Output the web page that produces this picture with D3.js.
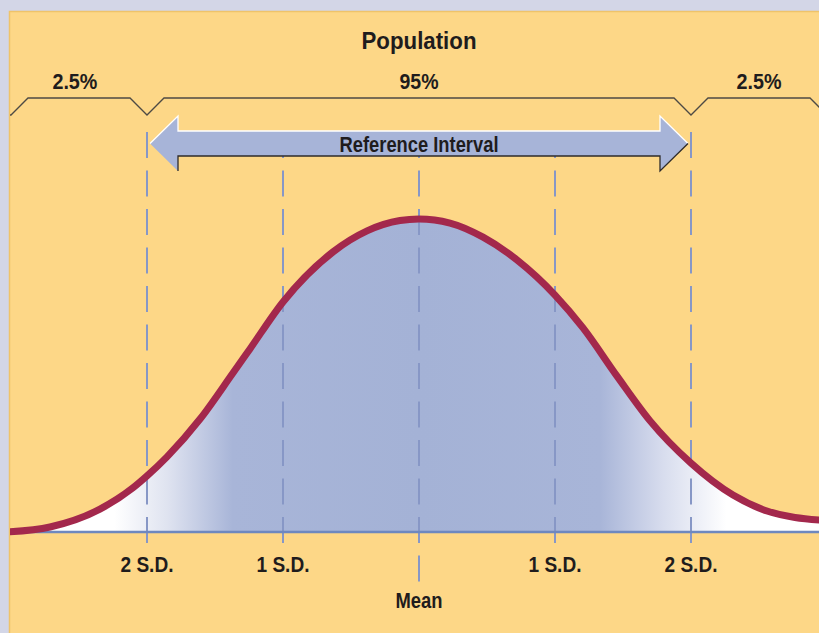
<!DOCTYPE html>
<html>
<head>
<meta charset="utf-8">
<script src="https://cdn.jsdelivr.net/npm/d3@7"></script>
<style>
  body { margin: 0; background: #d3d6e7; }
  svg { display: block; }
  .lbl { font-family: "Liberation Sans", Arial, sans-serif; font-weight: bold; fill: #1f1c1d; }
</style>
</head>
<body>
<div id="chart"></div>
<script>
// curve: position in S.D. units, height relative to the peak
var curveSD      = [-3.03, -2.713, -2.346, -2.103, -2.0, -1.853, -1.61, -1.368, -1.243, -1.0, -0.632, -0.382, -0.14, 0,
                    0.228, 0.471, 0.721, 1.0, 1.206, 1.456, 1.699, 2.0, 2.309, 2.559, 2.97];
var curveDensity = [0.0, 0.016, 0.073, 0.141, 0.179, 0.240, 0.361, 0.508, 0.585, 0.735, 0.895, 0.962, 0.995, 1.0,
                    0.987, 0.942, 0.869, 0.757, 0.652, 0.498, 0.355, 0.220, 0.118, 0.067, 0.037];

// dashed guides and their labels
var sdLines  = [-2, -1, 0, 1, 2];
var sdLabels = ["2 S.D.", "1 S.D.", "Mean", "1 S.D.", "2 S.D."];

// bracket notches and the share of the population in each part
var bracketSD   = [-3, -2, 2, 3];
var shareLabels = ["2.5%", "95%", "2.5%"];
var sharePos    = [-2.53, 0, 2.5];

var title = "Population";
var intervalLabel = "Reference Interval";
var intervalSD = [-2, 2];

// svg container
var svgWidth = 819;
var svgHeight = 633;

var svg = d3.select("#chart").append("svg")
    .attr("width", svgWidth)
    .attr("height", svgHeight);

// panel
var panel = {left: 9, top: 11};
svg.append("rect")
    .attr("x", panel.left).attr("y", panel.top)
    .attr("width", svgWidth - panel.left).attr("height", svgHeight - panel.top)
    .attr("fill", "#fdd787");
svg.append("path")
    .attr("d", `M${panel.left + 0.5},${svgHeight} V${panel.top + 0.5} H${svgWidth}`)
    .attr("fill", "none").attr("stroke", "#efc36a").attr("stroke-width", 1.5);

svg.append("clipPath").attr("id", "clip")
  .append("rect")
    .attr("x", panel.left + 1).attr("y", panel.top + 1)
    .attr("width", svgWidth).attr("height", svgHeight);

var g = svg.append("g").attr("clip-path", "url(#clip)");

// scales
var xScale = d3.scaleLinear().domain([-3, 3]).range([11, 827]);
var yScale = d3.scaleLinear().domain([0, 1]).range([532, 219]);

var curveData = curveSD.map((s, i) => ({sd: s, d: curveDensity[i]}));

// fill gradient: white in the tails, blue in the middle
var grad = svg.append("defs").append("linearGradient")
    .attr("id", "fillGrad")
    .attr("gradientUnits", "userSpaceOnUse")
    .attr("x1", 0).attr("x2", svgWidth).attr("y1", 0).attr("y2", 0);
[[-2.24, "#ffffff"], [-1.85, "#dfe3f0"], [-1.37, "#a8b5d8"], [0, "#a4b2d6"],
 [1.33, "#a8b5d8"], [1.8, "#d8ddee"], [2.26, "#ffffff"]].forEach(function(s) {
    grad.append("stop")
        .attr("offset", xScale(s[0]) / svgWidth)
        .attr("stop-color", s[1]);
});

var area = d3.area()
    .x(d => xScale(d.sd))
    .y0(yScale(0))
    .y1(d => yScale(d.d))
    .curve(d3.curveMonotoneX);

g.append("path")
    .datum(curveData)
    .attr("d", area)
    .attr("fill", "url(#fillGrad)");

// dashed guides
g.selectAll(".guide")
    .data(sdLines)
    .enter()
    .append("line")
    .attr("class", "guide")
    .attr("x1", d => xScale(d))
    .attr("x2", d => xScale(d))
    .attr("y1", 132)
    .attr("y2", d => d === 0 ? 583 : 544)
    .attr("stroke", "#8797c6")
    .attr("stroke-width", 2)
    .attr("stroke-dasharray", "26,12.5");

// baseline
g.append("line")
    .attr("x1", panel.left).attr("x2", svgWidth)
    .attr("y1", yScale(0)).attr("y2", yScale(0))
    .attr("stroke", "#6e88bf")
    .attr("stroke-width", 2.5);

// the curve
var line = d3.line()
    .x(d => xScale(d.sd))
    .y(d => yScale(d.d))
    .curve(d3.curveMonotoneX);

g.append("path")
    .datum(curveData)
    .attr("d", line)
    .attr("fill", "none")
    .attr("stroke", "#a3284c")
    .attr("stroke-width", 7);

// bracket across the top
var by = 98, notch = 17;
var bracket = d3.path();
bracketSD.forEach(function(s, i) {
    var cx = xScale(s);
    if (i === 0) bracket.moveTo(cx - notch, by + notch);
    else bracket.lineTo(cx - notch, by);
    bracket.lineTo(cx, by + notch);
    bracket.lineTo(cx + notch, by);
});
g.append("path")
    .attr("d", bracket.toString())
    .attr("fill", "none")
    .attr("stroke", "#4d4a44")
    .attr("stroke-width", 1.3);

// condensed look: squeeze the bold face to the width seen in the picture
function label(sel, size, width) {
    sel.attr("class", "lbl")
        .attr("text-anchor", "middle")
        .attr("font-size", size + "px")
        .attr("textLength", width)
        .attr("lengthAdjust", "spacingAndGlyphs");
}

g.selectAll(".share")
    .data(shareLabels)
    .enter()
    .append("text")
    .call(label, 22.5, d => d === "95%" ? 39 : 45)
    .attr("x", (d, i) => xScale(sharePos[i]))
    .attr("y", 89)
    .text(d => d);

g.append("text")
    .call(label, 24, 115)
    .attr("x", xScale(0))
    .attr("y", 49)
    .text(title);

// reference interval arrow
var ay = 143.5, bodyH = 12.5, headH = 27.5, headW = 28;
var tipL = xScale(intervalSD[0]) + 3, tipR = xScale(intervalSD[1]) - 3;
var baseL = tipL + headW, baseR = tipR - headW;
var arrowPts = [
    [tipL, ay], [baseL, ay - headH], [baseL, ay - bodyH], [baseR, ay - bodyH], [baseR, ay - headH],
    [tipR, ay], [baseR, ay + headH], [baseR, ay + bodyH], [baseL, ay + bodyH], [baseL, ay + headH]
];
g.append("path")
    .attr("d", d3.line()(arrowPts) + "Z")
    .attr("fill", "#a7b4d8");
g.append("path")
    .attr("d", d3.line()(arrowPts.slice(0, 6)))
    .attr("fill", "none").attr("stroke", "#ffffff").attr("stroke-width", 1.3);
g.append("path")
    .attr("d", d3.line()(arrowPts.slice(5, 10)))
    .attr("fill", "none").attr("stroke", "#2e2b2a").attr("stroke-width", 1.3);

g.append("text")
    .call(label, 22, 159)
    .attr("x", xScale(0))
    .attr("y", 152)
    .text(intervalLabel);

// bottom labels
g.selectAll(".sd")
    .data(sdLabels)
    .enter()
    .append("text")
    .call(label, 22.5, d => d === "Mean" ? 47 : 53)
    .attr("x", (d, i) => xScale(sdLines[i]))
    .attr("y", (d, i) => sdLines[i] === 0 ? 608 : 572)
    .text(d => d);
</script>
</body>
</html>
